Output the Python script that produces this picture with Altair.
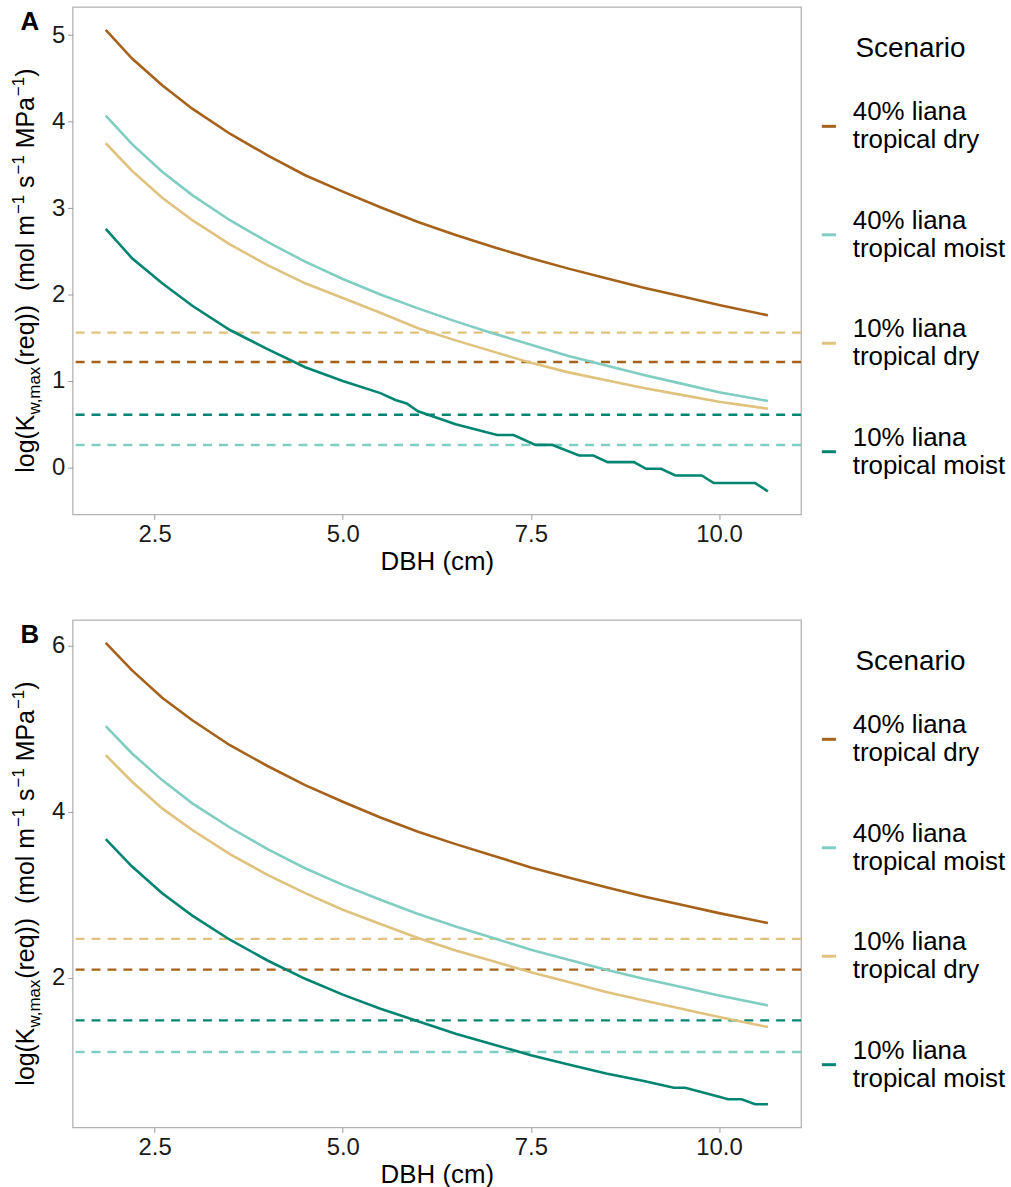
import altair as alt
import pandas as pd

FONT = "Liberation Sans"

# Scenario names ("|" marks the legend line break) and their colours
SCENARIOS = [
    "40% liana|tropical dry",
    "40% liana|tropical moist",
    "10% liana|tropical dry",
    "10% liana|tropical moist",
]
PALETTE = ["#a6611a", "#80cdc1", "#dfc27d", "#018571"]

# Common DBH grid (cm)
DBH = [1.85, 2.2, 2.6, 3.0, 3.5, 4.0, 4.5, 5.0, 5.5, 6.0, 6.5, 7.0, 7.5,
       8.0, 8.5, 9.0, 9.5, 10.0, 10.65]

# ---- Panel A: required conductivity curves ----
A_DRY40 = [5.06, 4.73, 4.42, 4.15, 3.86, 3.61, 3.38, 3.19, 3.01, 2.84, 2.69,
           2.55, 2.42, 2.30, 2.19, 2.08, 1.98, 1.88, 1.76]
A_MOIST40 = [4.07, 3.74, 3.42, 3.15, 2.86, 2.61, 2.38, 2.18, 2.00, 1.84, 1.69,
             1.55, 1.42, 1.29, 1.18, 1.07, 0.97, 0.87, 0.77]
A_DRY10 = [3.75, 3.43, 3.12, 2.86, 2.58, 2.34, 2.13, 1.96, 1.79, 1.61, 1.47,
           1.34, 1.21, 1.10, 1.01, 0.92, 0.84, 0.76, 0.68]
A_MOIST10_DBH = [1.85, 2.2, 2.6, 3.0, 3.5, 4.0, 4.5, 5.0, 5.5, 5.7, 5.85, 6.0,
                 6.5, 7.05, 7.27, 7.56, 7.78, 8.14, 8.33, 8.52, 8.87, 9.03,
                 9.23, 9.42, 9.77, 9.93, 10.48, 10.65]
A_MOIST10 = [2.76, 2.42, 2.13, 1.87, 1.59, 1.37, 1.16, 1.00, 0.86, 0.78, 0.74,
             0.65, 0.50, 0.376, 0.376, 0.261, 0.261, 0.138, 0.138, 0.062,
             0.062, -0.015, -0.015, -0.092, -0.092, -0.18, -0.18, -0.276]
# Observed conductivity levels (dashed), same scenario order
A_OBS = [1.22, 0.26, 1.56, 0.61]

# ---- Panel B ----
B_DRY40 = [6.03, 5.70, 5.37, 5.10, 4.80, 4.55, 4.32, 4.12, 3.93, 3.76, 3.61,
           3.47, 3.33, 3.21, 3.09, 2.98, 2.88, 2.78, 2.66]
B_MOIST40 = [5.03, 4.70, 4.38, 4.10, 3.81, 3.55, 3.32, 3.12, 2.94, 2.77, 2.62,
             2.48, 2.34, 2.22, 2.10, 1.99, 1.89, 1.79, 1.67]
B_DRY10 = [4.68, 4.36, 4.04, 3.78, 3.49, 3.24, 3.02, 2.82, 2.65, 2.48, 2.33,
           2.20, 2.07, 1.95, 1.83, 1.73, 1.63, 1.53, 1.41]
B_MOIST10_DBH = [1.85, 2.2, 2.6, 3.0, 3.5, 4.0, 4.5, 5.0, 5.5, 6.0, 6.5, 7.0,
                 7.5, 8.0, 8.5, 9.0, 9.4, 9.55, 10.0, 10.12, 10.3, 10.48, 10.65]
B_MOIST10 = [3.67, 3.34, 3.02, 2.75, 2.46, 2.21, 1.99, 1.80, 1.63, 1.48, 1.33,
             1.20, 1.07, 0.96, 0.85, 0.76, 0.68, 0.68, 0.57, 0.54, 0.54, 0.48,
             0.48]
B_OBS = [2.10, 1.11, 2.47, 1.49]

X_TICKS = [2.5, 5.0, 7.5, 10.0]
A_Y_TICKS = [0, 1, 2, 3, 4, 5]
B_Y_TICKS = [2, 4, 6]

PANEL_W = 732
PANEL_H = 510

# Liberation Sans / Arial advance widths (per 1000 em) for the axis title
GLYPH_W = {
    " ": 278, "(": 333, ")": 333, ",": 278, "−": 584, "1": 556,
    "a": 556, "e": 556, "g": 556, "l": 222, "m": 833, "o": 556, "q": 556,
    "r": 333, "s": 500, "w": 722, "x": 500, "K": 667, "M": 833, "P": 667,
}


def text_width(s, size):
    return sum(GLYPH_W[c] for c in s) * size / 1000.0


def expand(lo, hi, frac=0.05):
    pad = (hi - lo) * frac
    return [lo - pad, hi + pad]


def y_title_layers(height):
    """Rotated y-axis title built from pieces so sub/superscripts can be drawn."""
    main, small = 25, 17
    # (text, size, baseline shift, gap before in px)
    parts = [
        ("log(K", main, 0, 0),
        ("w,max", small, 6, 0),
        ("(req))", main, 0, 0),
        ("(mol m", main, 0, text_width("  ", main)),
        ("−1", small, -10, 1),
        ("s", main, 0, text_width(" ", main)),
        ("−1", small, -10, 1),
        ("MPa", main, 0, text_width(" ", main)),
        ("−1", small, -10, 1),
        (")", main, 0, 0),
    ]
    total = sum(text_width(t, s) + g for t, s, _, g in parts)
    y = height / 2 + total / 2 + 10
    layers = []
    for t, size, shift, gap in parts:
        y -= gap
        layers.append(
            alt.Chart(pd.DataFrame({"t": [t]}))
            .mark_text(angle=270, align="left", baseline="alphabetic",
                       font=FONT, fontSize=size, color="black")
            .encode(x=alt.value(-39 + shift), y=alt.value(y), text="t:N")
        )
        y -= text_width(t, size)
    return layers


def panel(tag, curves, observed, y_ticks):
    rows = []
    for name, (xs, ys) in zip(SCENARIOS, curves):
        for xv, yv in zip(xs, ys):
            rows.append({"scenario": name, "dbh": xv, "value": yv})
    lines_df = pd.DataFrame(rows)
    obs_df = pd.DataFrame({"scenario": SCENARIOS, "value": observed})

    all_y = list(lines_df["value"]) + list(observed)
    y_dom = expand(min(all_y), max(all_y))
    x_dom = expand(min(lines_df["dbh"]), max(lines_df["dbh"]))

    color = alt.Color(
        "scenario:N",
        scale=alt.Scale(domain=SCENARIOS, range=PALETTE),
        legend=alt.Legend(title="Scenario", orient="none", legendX=747,
                          legendY=28, labelExpr="split(datum.label, '|')"),
    )
    x = alt.X("dbh:Q", scale=alt.Scale(domain=x_dom, nice=False, zero=False),
              axis=alt.Axis(values=X_TICKS, format=".1f", title="DBH (cm)"))
    y = alt.Y("value:Q", scale=alt.Scale(domain=y_dom, nice=False, zero=False),
              axis=alt.Axis(values=y_ticks, format="d", title=None))

    rules = alt.Chart(obs_df).mark_rule(strokeDash=[9, 7], strokeWidth=2.4).encode(
        y=y, color=color)
    lines = alt.Chart(lines_df).mark_line(strokeWidth=2.6).encode(
        x=x, y=y, color=color)
    label = (
        alt.Chart(pd.DataFrame({"t": [tag]}))
        .mark_text(font=FONT, fontSize=26, fontWeight="bold", color="black",
                   align="center", baseline="middle")
        .encode(x=alt.value(-43), y=alt.value(15), text="t:N")
    )
    return alt.layer(rules, lines, *y_title_layers(PANEL_H), label).properties(
        width=PANEL_W, height=PANEL_H)


panel_a = panel("A", [(DBH, A_DRY40), (DBH, A_MOIST40), (DBH, A_DRY10),
                      (A_MOIST10_DBH, A_MOIST10)], A_OBS, A_Y_TICKS)
panel_b = panel("B", [(DBH, B_DRY40), (DBH, B_MOIST40), (DBH, B_DRY10),
                      (B_MOIST10_DBH, B_MOIST10)], B_OBS, B_Y_TICKS)

chart = (
    alt.vconcat(panel_a, panel_b, spacing=44)
    .resolve_scale(x="independent", y="independent", color="independent")
    .properties(padding={"left": 9, "top": 3, "right": 4, "bottom": 5})
    .configure_view(stroke="#b3b3b3", strokeWidth=1.3)
    .configure_axis(
        domain=False, grid=False, tickColor="#9a9a9a", tickSize=5,
        labelFont=FONT, labelFontSize=24, labelColor="#1a1a1a", labelPadding=3,
        titleFont=FONT, titleFontSize=26, titleFontWeight="normal",
        titleColor="black", titlePadding=2,
    )
    .configure_legend(
        titleFont=FONT, titleFontSize=28, titleFontWeight="normal",
        titleColor="black", titleAnchor="middle", titlePadding=51,
        labelFont=FONT, labelFontSize=26, labelColor="black", labelLimit=400,
        labelBaseline="line-bottom",
        symbolType="stroke", symbolStrokeWidth=3, symbolSize=200,
        labelOffset=11, rowPadding=55,
    )
)

chart.save("out.html", embed_options={"renderer": "svg", "actions": False})
